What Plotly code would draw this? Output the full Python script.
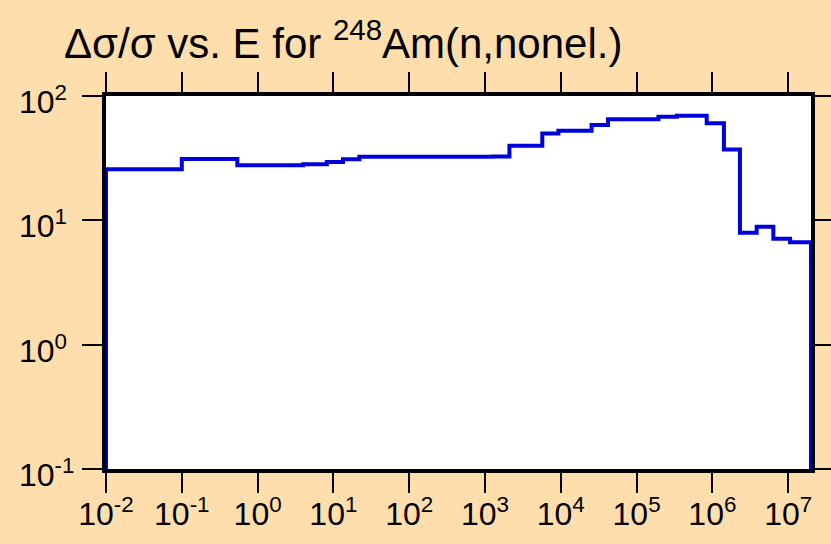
import plotly.graph_objects as go

# energy group boundaries (eV) and relative uncertainty per group (%)
edges = [1e-2, 0.1, 0.54, 4.0, 8.2, 13.4, 22, 470, 1260, 2100, 5700, 9300,
         25500, 42000, 194000, 340000, 841000, 1.42e6, 2.31e6, 3.84e6,
         6.37e6, 1.06e7, 2e7]
rel_unc = [25.7, 31.1, 27.7, 28.2, 29.4, 31.0, 32.5, 32.4, 32.6, 39.8, 50.0,
           52.6, 58.5, 64.9, 68.2, 69.5, 60.3, 37.2, 7.94, 8.87, 7.11, 6.65]
floor_val = 0.1

x_ticks = [-2, -1, 0, 1, 2, 3, 4, 5, 6, 7]
y_ticks = [-1, 0, 1, 2]

# step curve: rises from the floor at first edge, falls back at the last
xs = [edges[0]] + edges
ys = [floor_val] + rel_unc + [floor_val]

fig = go.Figure()
fig.add_trace(go.Scatter(x=xs, y=ys, mode="lines", line_shape="hv",
                         line=dict(color="#0000DD", width=4),
                         showlegend=False, hoverinfo="skip"))

family = "Liberation Sans, Arial, sans-serif"
font = dict(family=family, size=32, color="black")

axis_style = dict(type="log", showline=True, linewidth=4, linecolor="black",
                  mirror="ticks", ticks="outside", ticklen=20, tickwidth=2,
                  tickcolor="black", showgrid=False, zeroline=False,
                  layer="below traces", tickfont=font, automargin=False)

fig.update_xaxes(range=[-2, 7.301], tickvals=[10 ** p for p in x_ticks],
                 ticktext=["10<sup>%d</sup>" % p for p in x_ticks],
                 ticklabelstandoff=-6, **axis_style)
fig.update_yaxes(range=[-1, 2], tickvals=[10 ** p for p in y_ticks],
                 showticklabels=False, **axis_style)

# y labels are left-aligned in the original, so place them as annotations
annots = [dict(text="10<sup>%d</sup>" % p, xref="paper", yref="y",
               x=-0.126, y=p, xanchor="left", yanchor="middle", yshift=-4,
               showarrow=False, font=font) for p in y_ticks]

annots.append(dict(text="\u0394\u03c3/\u03c3 vs. E for <sup>248</sup>Am(n,nonel.)",
                   xref="paper", yref="paper", x=-0.063, y=1.15,
                   xanchor="left", yanchor="middle", showarrow=False,
                   font=dict(family=family, size=42, color="black")))

fig.update_layout(
    width=831, height=544,
    margin=dict(l=106, r=20, t=96, b=75),
    paper_bgcolor="#FFDEAD", plot_bgcolor="white",
    font=font,
    annotations=annots,
)

# drop the browser's default body margin so the figure sits at 0,0
fig.write_html("out.html", config={"displayModeBar": False},
               post_script="document.body.style.margin='0';"
                           "document.body.style.background='#FFDEAD';")
